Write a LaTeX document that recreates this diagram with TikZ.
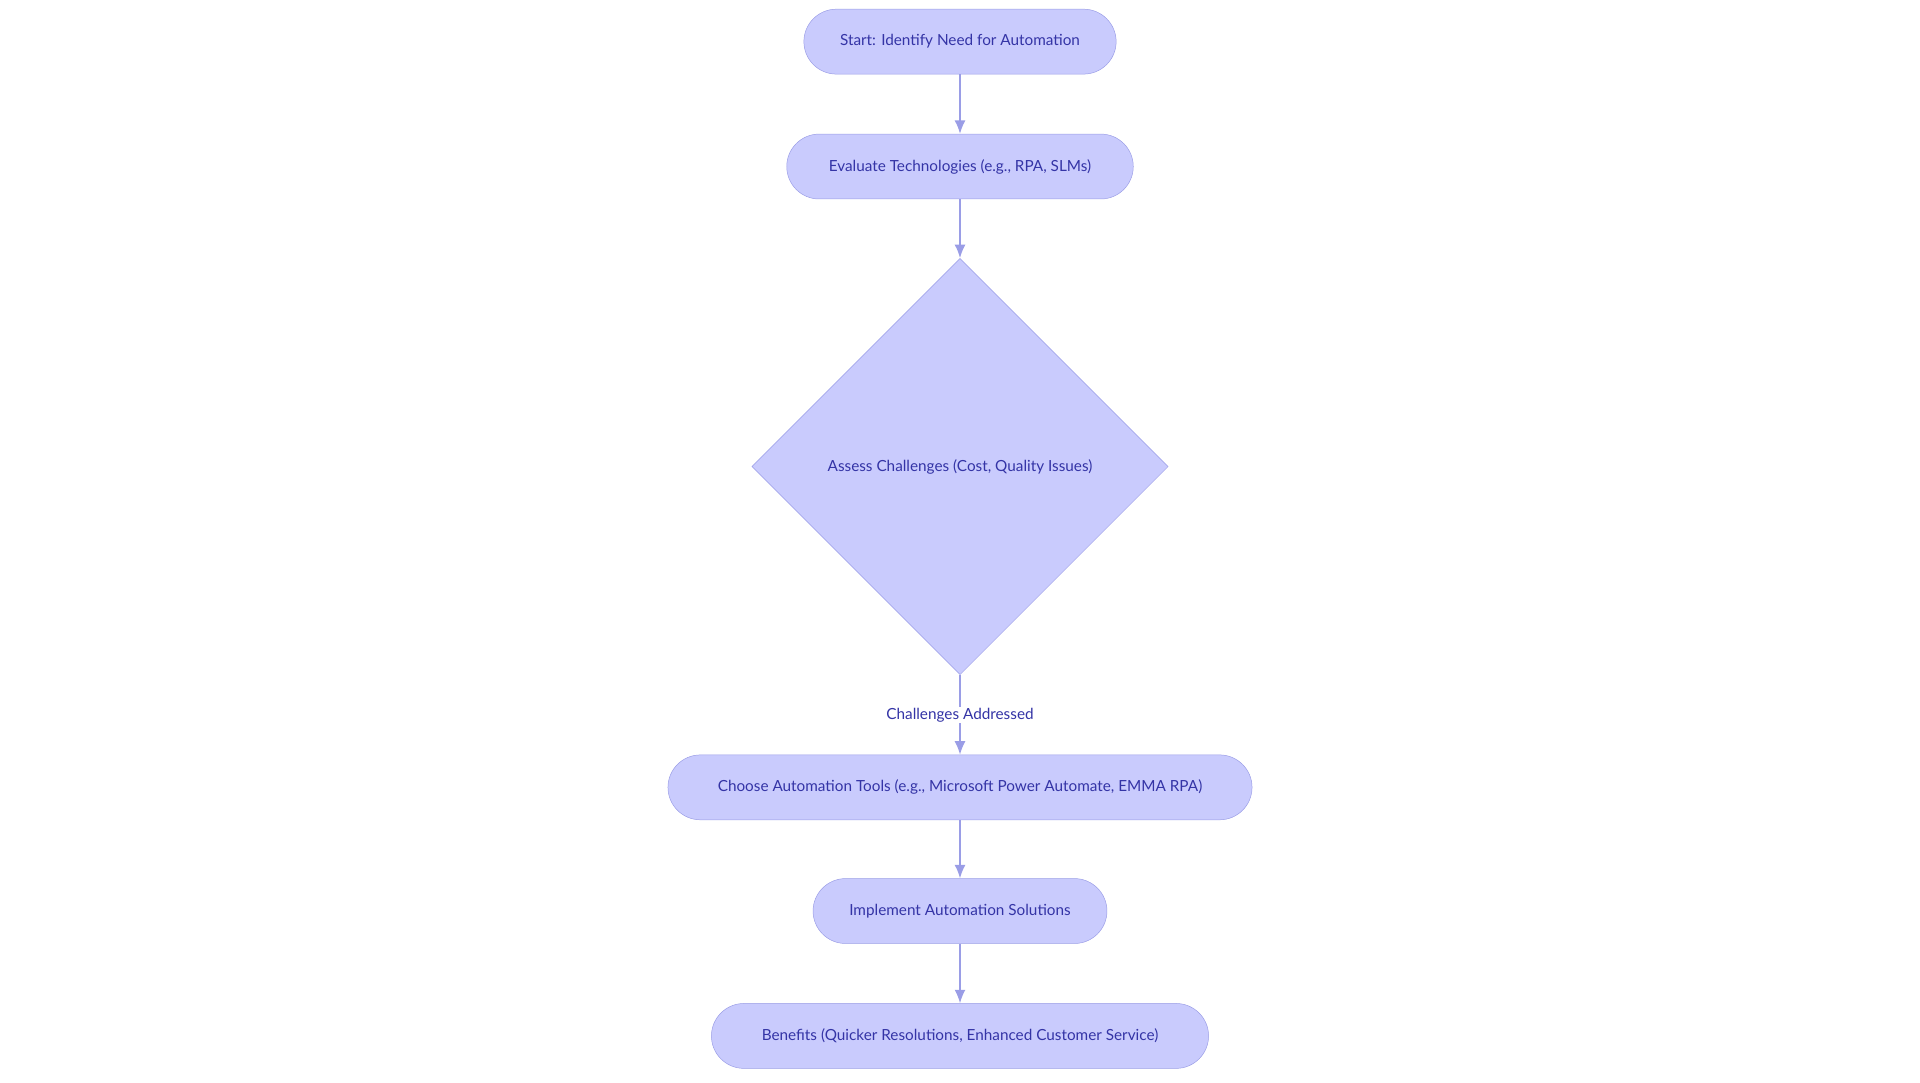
\documentclass[tikz,border=0pt]{standalone}
\usepackage{fontspec}
\setmainfont{Lato}
\usetikzlibrary{shapes.geometric,arrows.meta}
\definecolor{boxfill}{HTML}{C9CBFD}
\definecolor{boxline}{HTML}{9A9DE6}
\definecolor{boxtext}{HTML}{3434A6}
\tikzset{
  stepbox/.style={draw=boxline, fill=boxfill, text=boxtext, rounded corners=26.5pt,
    minimum height=53pt, inner sep=0pt, font=\fontsize{12.5}{15}\selectfont},
  choice/.style={draw=boxline, fill=boxfill, text=boxtext, diamond, shape aspect=1,
    minimum size=340pt, inner sep=0pt, font=\fontsize{12.5}{15}\selectfont},
  flow/.style={draw=boxline, line width=1.3pt, -{Latex[length=11pt,width=9pt]}}
}
\begin{document}
\begin{tikzpicture}[x=1pt,y=-1pt]
\useasboundingbox (0,0) rectangle (1568,884);

\node[stepbox, minimum width=255pt] (start) at (784,34) {Start: Identify Need for Automation};
\node[stepbox, minimum width=283pt] (eval) at (784,136) {Evaluate Technologies (e.g., RPA, SLMs)};
\node[choice] (assess) at (784,381) {Assess Challenges (Cost, Quality Issues)};
\node[stepbox, minimum width=477pt] (choose) at (784,643) {Choose Automation Tools (e.g., Microsoft Power Automate, EMMA RPA)};
\node[stepbox, minimum width=240pt] (impl) at (784,744) {Implement Automation Solutions};
\node[stepbox, minimum width=406pt] (benef) at (784,846) {Benefits (Quicker Resolutions, Enhanced Customer Service)};

\draw[flow] (start) -- (eval);
\draw[flow] (eval) -- (assess);
\draw[flow] (assess) -- node[fill=white, text=boxtext, inner sep=1pt,
  font=\fontsize{12.5}{15}\selectfont] (addr) {Challenges Addressed} (choose);
\draw[flow] (choose) -- (impl);
\draw[flow] (impl) -- (benef);
\end{tikzpicture}
\end{document}
